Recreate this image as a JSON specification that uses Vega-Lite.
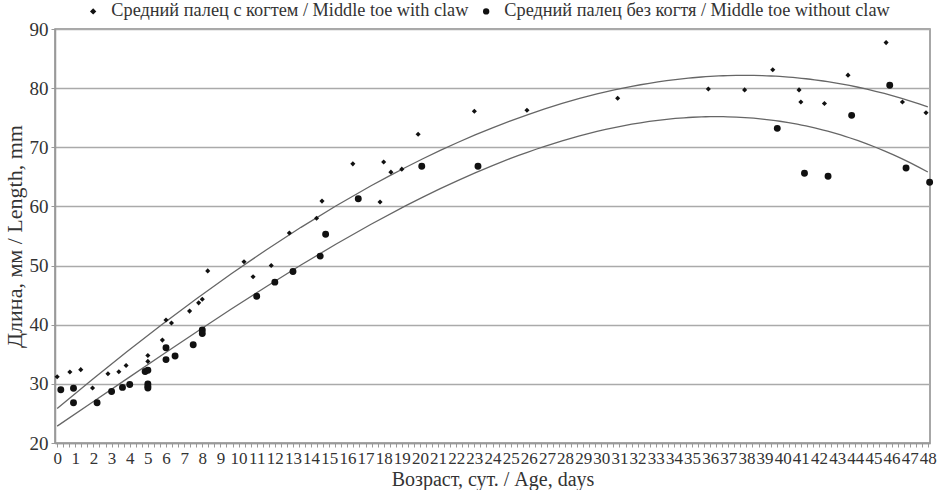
{
  "$schema": "https://vega.github.io/schema/vega-lite/v6.json",
  "width": 875,
  "height": 414,
  "autosize": "none",
  "padding": {"left": 55, "top": 29, "right": 15, "bottom": 47},
  "background": "white",
  "config": {
    "font": "Liberation Serif",
    "view": {"stroke": "#8a8a8a", "strokeWidth": 1.5},
    "axis": {"labelFont": "Liberation Serif", "titleFont": "Liberation Serif", "labelColor": "#333", "titleColor": "#333", "titleFontWeight": "normal", "domainColor": "#999", "tickColor": "#999"}
  },
  "datasets": {
    "pts": [
      {"day": 0, "len": 31.2, "series": "Средний палец с когтем / Middle toe with claw"},
      {"day": 0.7, "len": 32.0, "series": "Средний палец с когтем / Middle toe with claw"},
      {"day": 1.3, "len": 32.4, "series": "Средний палец с когтем / Middle toe with claw"},
      {"day": 1.95, "len": 29.3, "series": "Средний палец с когтем / Middle toe with claw"},
      {"day": 2.8, "len": 31.7, "series": "Средний палец с когтем / Middle toe with claw"},
      {"day": 3.4, "len": 32.05, "series": "Средний палец с когтем / Middle toe with claw"},
      {"day": 3.8, "len": 33.1, "series": "Средний палец с когтем / Middle toe with claw"},
      {"day": 5.0, "len": 33.8, "series": "Средний палец с когтем / Middle toe with claw"},
      {"day": 5.0, "len": 34.8, "series": "Средний палец с когтем / Middle toe with claw"},
      {"day": 5.8, "len": 37.4, "series": "Средний палец с когтем / Middle toe with claw"},
      {"day": 6.0, "len": 40.8, "series": "Средний палец с когтем / Middle toe with claw"},
      {"day": 6.3, "len": 40.3, "series": "Средний палец с когтем / Middle toe with claw"},
      {"day": 7.3, "len": 42.3, "series": "Средний палец с когтем / Middle toe with claw"},
      {"day": 7.8, "len": 43.7, "series": "Средний палец с когтем / Middle toe with claw"},
      {"day": 8.0, "len": 44.3, "series": "Средний палец с когтем / Middle toe with claw"},
      {"day": 8.3, "len": 49.1, "series": "Средний палец с когтем / Middle toe with claw"},
      {"day": 10.3, "len": 50.65, "series": "Средний палец с когтем / Middle toe with claw"},
      {"day": 10.8, "len": 48.1, "series": "Средний палец с когтем / Middle toe with claw"},
      {"day": 11.8, "len": 50.0, "series": "Средний палец с когтем / Middle toe with claw"},
      {"day": 12.8, "len": 55.5, "series": "Средний палец с когтем / Middle toe with claw"},
      {"day": 14.3, "len": 58.0, "series": "Средний палец с когтем / Middle toe with claw"},
      {"day": 14.6, "len": 60.9, "series": "Средний палец с когтем / Middle toe with claw"},
      {"day": 16.3, "len": 67.2, "series": "Средний палец с когтем / Middle toe with claw"},
      {"day": 17.8, "len": 60.75, "series": "Средний палец с когтем / Middle toe with claw"},
      {"day": 18.0, "len": 67.5, "series": "Средний палец с когтем / Middle toe with claw"},
      {"day": 18.4, "len": 65.8, "series": "Средний палец с когтем / Middle toe with claw"},
      {"day": 19.0, "len": 66.3, "series": "Средний палец с когтем / Middle toe with claw"},
      {"day": 19.9, "len": 72.2, "series": "Средний палец с когтем / Middle toe with claw"},
      {"day": 23.0, "len": 76.1, "series": "Средний палец с когтем / Middle toe with claw"},
      {"day": 25.9, "len": 76.25, "series": "Средний палец с когтем / Middle toe with claw"},
      {"day": 30.9, "len": 78.3, "series": "Средний палец с когтем / Middle toe with claw"},
      {"day": 35.9, "len": 79.85, "series": "Средний палец с когтем / Middle toe with claw"},
      {"day": 37.9, "len": 79.7, "series": "Средний палец с когтем / Middle toe with claw"},
      {"day": 39.45, "len": 83.1, "series": "Средний палец с когтем / Middle toe with claw"},
      {"day": 40.9, "len": 79.7, "series": "Средний палец с когтем / Middle toe with claw"},
      {"day": 41.0, "len": 77.65, "series": "Средний палец с когтем / Middle toe with claw"},
      {"day": 42.3, "len": 77.4, "series": "Средний палец с когтем / Middle toe with claw"},
      {"day": 43.6, "len": 82.2, "series": "Средний палец с когтем / Middle toe with claw"},
      {"day": 45.7, "len": 87.7, "series": "Средний палец с когтем / Middle toe with claw"},
      {"day": 46.6, "len": 77.65, "series": "Средний палец с когтем / Middle toe with claw"},
      {"day": 47.9, "len": 75.85, "series": "Средний палец с когтем / Middle toe with claw"},
      {"day": 0.2, "len": 29.0, "series": "Средний палец без когтя / Middle toe without claw"},
      {"day": 0.9, "len": 29.25, "series": "Средний палец без когтя / Middle toe without claw"},
      {"day": 0.9, "len": 26.8, "series": "Средний палец без когтя / Middle toe without claw"},
      {"day": 2.2, "len": 26.8, "series": "Средний палец без когтя / Middle toe without claw"},
      {"day": 3.0, "len": 28.7, "series": "Средний палец без когтя / Middle toe without claw"},
      {"day": 3.6, "len": 29.4, "series": "Средний палец без когтя / Middle toe without claw"},
      {"day": 4.0, "len": 29.9, "series": "Средний палец без когтя / Middle toe without claw"},
      {"day": 4.85, "len": 32.1, "series": "Средний палец без когтя / Middle toe without claw"},
      {"day": 5.0, "len": 32.3, "series": "Средний палец без когтя / Middle toe without claw"},
      {"day": 5.0, "len": 30.0, "series": "Средний палец без когтя / Middle toe without claw"},
      {"day": 5.0, "len": 29.6, "series": "Средний палец без когтя / Middle toe without claw"},
      {"day": 5.0, "len": 29.3, "series": "Средний палец без когтя / Middle toe without claw"},
      {"day": 6.0, "len": 36.1, "series": "Средний палец без когтя / Middle toe without claw"},
      {"day": 6.0, "len": 34.1, "series": "Средний палец без когтя / Middle toe without claw"},
      {"day": 6.5, "len": 34.7, "series": "Средний палец без когтя / Middle toe without claw"},
      {"day": 7.5, "len": 36.6, "series": "Средний палец без когтя / Middle toe without claw"},
      {"day": 8.0, "len": 39.1, "series": "Средний палец без когтя / Middle toe without claw"},
      {"day": 8.0, "len": 38.5, "series": "Средний палец без когтя / Middle toe without claw"},
      {"day": 11.0, "len": 44.8, "series": "Средний палец без когтя / Middle toe without claw"},
      {"day": 12.0, "len": 47.2, "series": "Средний палец без когтя / Middle toe without claw"},
      {"day": 13.0, "len": 49.0, "series": "Средний палец без когтя / Middle toe without claw"},
      {"day": 14.5, "len": 51.6, "series": "Средний палец без когтя / Middle toe without claw"},
      {"day": 14.8, "len": 55.3, "series": "Средний палец без когтя / Middle toe without claw"},
      {"day": 16.6, "len": 61.3, "series": "Средний палец без когтя / Middle toe without claw"},
      {"day": 20.1, "len": 66.8, "series": "Средний палец без когтя / Middle toe without claw"},
      {"day": 23.2, "len": 66.8, "series": "Средний палец без когтя / Middle toe without claw"},
      {"day": 39.7, "len": 73.2, "series": "Средний палец без когтя / Middle toe without claw"},
      {"day": 41.2, "len": 65.6, "series": "Средний палец без когтя / Middle toe without claw"},
      {"day": 42.5, "len": 65.1, "series": "Средний палец без когтя / Middle toe without claw"},
      {"day": 43.8, "len": 75.4, "series": "Средний палец без когтя / Middle toe without claw"},
      {"day": 45.9, "len": 80.5, "series": "Средний палец без когтя / Middle toe without claw"},
      {"day": 46.8, "len": 66.5, "series": "Средний палец без когтя / Middle toe without claw"},
      {"day": 48.1, "len": 64.1, "series": "Средний палец без когтя / Middle toe without claw"}
    ]
  },
  "data": {"name": "pts"},
  "encoding": {
    "x": {
      "field": "day", "type": "quantitative",
      "scale": {"domain": [-0.12, 48.12], "nice": false, "zero": false},
      "axis": {
        "title": "Возраст, сут.  / Age, days",
        "titleFontSize": 20, "titlePadding": 3,
        "labelFontSize": 17, "labelPadding": 3, "labelOverlap": false, "labelBound": false, "labelFlush": false,
        "labelExpr": "abs(datum.value - round(datum.value)) < 0.01 ? format(round(datum.value), 'd') : ''",
        "tickSize": 4, "domainWidth": 1.5, "grid": false,
        "values": [0,0.333,0.667,1,1.333,1.667,2,2.333,2.667,3,3.333,3.667,4,4.333,4.667,5,5.333,5.667,6,6.333,6.667,7,7.333,7.667,8,8.333,8.667,9,9.333,9.667,10,10.333,10.667,11,11.333,11.667,12,12.333,12.667,13,13.333,13.667,14,14.333,14.667,15,15.333,15.667,16,16.333,16.667,17,17.333,17.667,18,18.333,18.667,19,19.333,19.667,20,20.333,20.667,21,21.333,21.667,22,22.333,22.667,23,23.333,23.667,24,24.333,24.667,25,25.333,25.667,26,26.333,26.667,27,27.333,27.667,28,28.333,28.667,29,29.333,29.667,30,30.333,30.667,31,31.333,31.667,32,32.333,32.667,33,33.333,33.667,34,34.333,34.667,35,35.333,35.667,36,36.333,36.667,37,37.333,37.667,38,38.333,38.667,39,39.333,39.667,40,40.333,40.667,41,41.333,41.667,42,42.333,42.667,43,43.333,43.667,44,44.333,44.667,45,45.333,45.667,46,46.333,46.667,47,47.333,47.667,48]
      }
    },
    "y": {
      "field": "len", "type": "quantitative",
      "scale": {"domain": [20, 90], "nice": false, "zero": false},
      "axis": {
        "title": "Длина, мм / Length, mm",
        "titleFontSize": 22, "titlePadding": 3,
        "labelFontSize": 19, "labelPadding": 3,
        "values": [20, 30, 40, 50, 60, 70, 80, 90],
        "tickSize": 4, "domainWidth": 1.5,
        "grid": true, "gridColor": "#aaa", "gridWidth": 1.6
      }
    }
  },
  "layer": [
    {
      "transform": [
        {"regression": "len", "on": "day", "groupby": ["series"], "method": "poly", "order": 3, "extent": [0, 48]}
      ],
      "mark": {"type": "line", "color": "#666", "strokeWidth": 1.3},
      "encoding": {
        "detail": {"field": "series"}
      }
    },
    {
      "transform": [{"filter": "datum.series === 'Средний палец с когтем / Middle toe with claw'"}],
      "mark": {"type": "point", "filled": true, "opacity": 1, "color": "#111", "size": 26},
      "encoding": {
        "shape": {
          "field": "series", "type": "nominal",
          "scale": {"domain": ["Средний палец с когтем / Middle toe with claw", "Средний палец без когтя / Middle toe without claw"], "range": ["diamond", "circle"]},
          "legend": {
            "title": null, "orient": "none", "direction": "horizontal", "legendX": 29, "legendY": -27,
            "labelFont": "Liberation Serif", "labelFontSize": 18.3, "labelColor": "#333", "labelLimit": 500,
            "symbolFillColor": "#111", "symbolStrokeColor": "#111", "symbolSize": 40, "columnPadding": 8, "labelOffset": 9, "padding": 0
          }
        }
      }
    },
    {
      "transform": [{"filter": "datum.series === 'Средний палец без когтя / Middle toe without claw'"}],
      "mark": {"type": "point", "filled": true, "opacity": 1, "color": "#111", "size": 48},
      "encoding": {
        "shape": {
          "field": "series", "type": "nominal",
          "scale": {"domain": ["Средний палец с когтем / Middle toe with claw", "Средний палец без когтя / Middle toe without claw"], "range": ["diamond", "circle"]}
        }
      }
    }
  ]
}
